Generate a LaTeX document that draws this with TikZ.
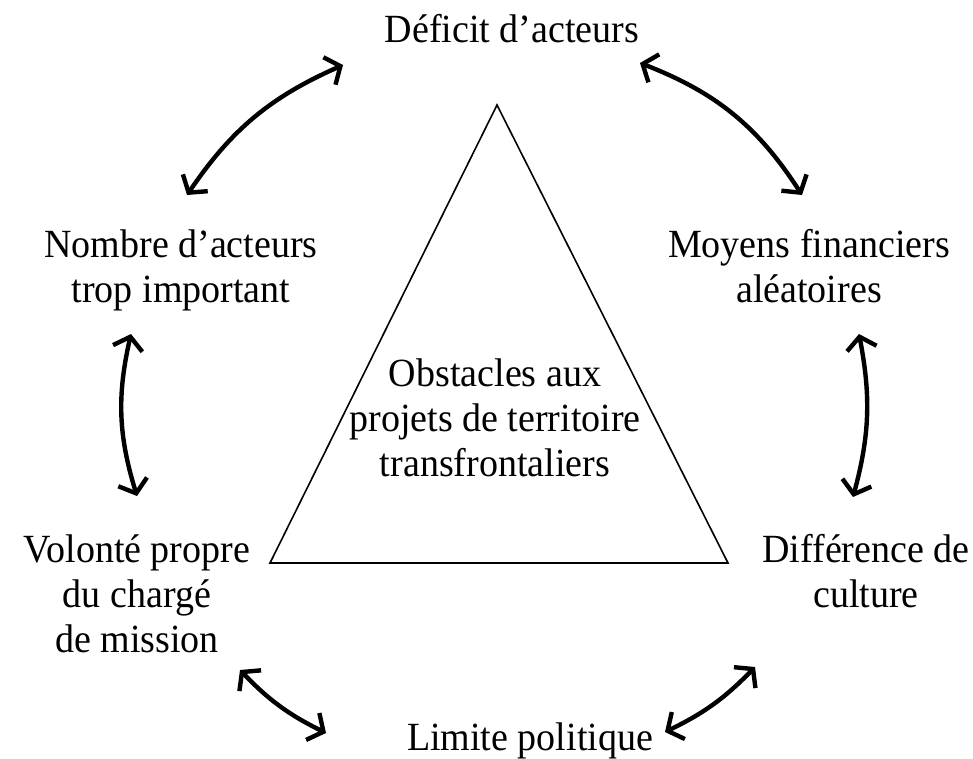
\documentclass[tikz,border=0pt]{standalone}
\usepackage{fontspec}
\setmainfont[FakeStretch=0.95]{Liberation Serif}
\usetikzlibrary{arrows.meta}
\tikzset{
  lbl/.style={align=center, anchor=base, inner sep=0pt, font=\fontsize{40}{45}\selectfont},
  link/.style={line width=4.4pt, {Straight Barb[length=12pt,width=30pt]}-{Straight Barb[length=12pt,width=30pt]}},
  tri/.style={line width=1.6pt, line join=miter}
}
\begin{document}
\begin{tikzpicture}[x=1pt,y=-1pt]
\useasboundingbox (0,0) rectangle (973,758);
% triangle
\coordinate (t1) at (497,105);
\coordinate (t2) at (270,563);
\coordinate (t3) at (728,563);
\draw[tri] (t1) -- (t2) -- (t3) -- cycle;
% labels (anchor = baseline of the last line)
\node[lbl] (top) at (512,42) {Déficit d’acteurs};
\node[lbl] (nw) at (181,302) {Nombre d’acteurs\\trop important};
\node[lbl] (ne) at (809,302) {Moyens financiers\\aléatoires};
\node[lbl] (ctr) at (495,476) {Obstacles aux\\projets de territoire\\transfrontaliers};
\node[lbl] (sw) at (137,652) {Volonté propre\\du chargé\\de mission};
\node[lbl] (se) at (866,607) {Différence de\\culture};
\node[lbl] (bot) at (530,750) {Limite politique};
% arrow ends
\coordinate (a1s) at (187,195); \coordinate (a1e) at (343,65);
\coordinate (a2s) at (640,63);  \coordinate (a2e) at (802,195);
\coordinate (a3s) at (131,334); \coordinate (a3e) at (137,496);
\coordinate (a4s) at (859,334); \coordinate (a4e) at (853,497);
\coordinate (a5s) at (240,670); \coordinate (a5e) at (326,733);
\coordinate (a6s) at (755,667); \coordinate (a6e) at (665,732);
\draw[link] (a1s) to[bend left=16] (a1e);
\draw[link] (a2s) to[bend left=18] (a2e);
\draw[link] (a3s) to[bend right=15] (a3e);
\draw[link] (a4s) to[bend left=13] (a4e);
\draw[link] (a5s) to[bend right=10] (a5e);
\draw[link] (a6s) to[bend left=10] (a6e);
\end{tikzpicture}
\end{document}
